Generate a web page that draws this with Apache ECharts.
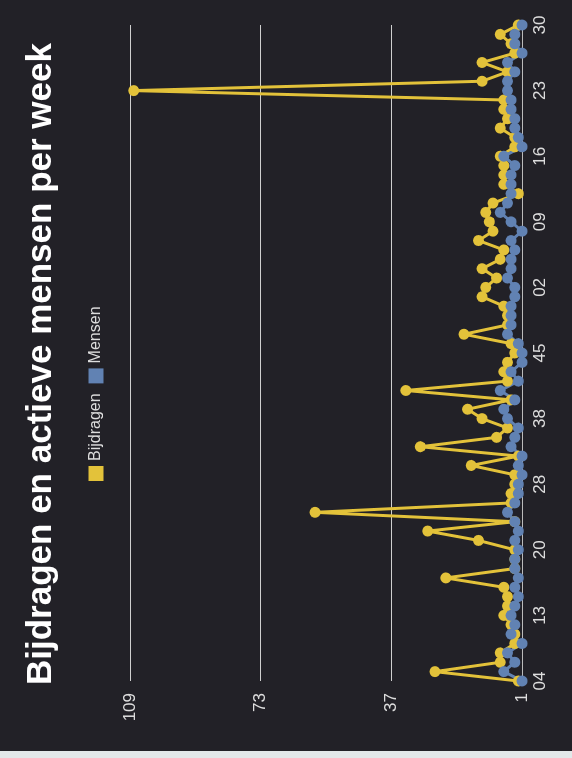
<!DOCTYPE html>
<html>
<head>
<meta charset="utf-8">
<script src="https://cdn.jsdelivr.net/npm/echarts@6/dist/echarts.min.js"></script>
<style>
  html, body { margin: 0; padding: 0; background: #e3e8e9; }
  #page { position: relative; width: 572px; height: 758px; overflow: hidden; }
  /* the printed chart is photographed sideways, so the chart is drawn upright and turned */
  #chart {
    position: absolute; left: 0; top: 0;
    width: 758px; height: 572px;
    transform-origin: 0 0;
    transform: translate(0, 758px) rotate(-90deg);
  }
  #strip { position: absolute; left: 0; top: 751px; width: 572px; height: 7px; background: #e3e8e9; }
</style>
</head>
<body>
<div id="page">
  <div id="chart"></div>
  <div id="strip"></div>
</div>
<script>
const weeks = [
  "04", "05", "06", "07", "08", "10", "11",
  "13", "14", "15", "16", "17", "18", "19",
  "20", "21", "22", "23", "24", "25", "27",
  "28", "29", "33", "34", "35", "36", "37",
  "38", "39", "40", "41", "42", "43", "44",
  "45", "46", "47", "48", "49", "50", "51",
  "02", "03", "04", "05", "06", "07", "08",
  "09", "10", "11", "12", "13", "14", "15",
  "16", "17", "18", "19", "20", "21", "22",
  "23", "24", "25", "26", "27", "28", "29",
  "30"
];

const bijdragen = [
  2, 25, 7, 7, 3, 3, 4, 6, 5, 5,
  6, 22, 3, 3, 3, 13, 27, 3, 58, 4,
  4, 3, 3, 15, 2, 29, 8, 5, 12, 16,
  4, 33, 5, 6, 5, 3, 4, 17, 5, 5,
  6, 12, 11, 8, 12, 7, 6, 13, 9, 10,
  11, 9, 2, 6, 6, 6, 7, 3, 3, 7,
  5, 6, 6, 108, 12, 5, 12, 3, 4, 7,
  2
];

const mensen = [
  1, 6, 3, 5, 1, 4, 3, 4, 3, 2,
  3, 2, 3, 3, 2, 3, 2, 3, 5, 3,
  2, 2, 1, 2, 1, 4, 3, 2, 5, 6,
  3, 7, 2, 4, 1, 1, 2, 5, 4, 4,
  4, 3, 3, 5, 4, 4, 3, 4, 1, 4,
  7, 5, 4, 4, 4, 3, 6, 1, 2, 3,
  3, 4, 4, 5, 5, 3, 5, 1, 3, 3,
  1
];

const valueTicks = [1, 37, 73, 109];

const chart = echarts.init(document.getElementById("chart"));

chart.setOption({
  backgroundColor: "#222127",
  animation: false,
  textStyle: { fontFamily: "Liberation Sans" },
  title: {
    text: "Bijdragen en actieve mensen per week",
    left: 68,
    top: 19,
    textStyle: { color: "#ffffff", fontSize: 35, fontWeight: "bold", fontFamily: "Liberation Sans" },
  },
  legend: {
    data: ["Bijdragen", "Mensen"],
    left: 272,
    top: 83,
    icon: "rect",
    itemWidth: 15,
    itemHeight: 15,
    itemGap: 10,
    textStyle: { color: "#dddddd", fontSize: 16 },
    selectedMode: false,
  },
  grid: { left: 77, right: 25, top: 130, bottom: 50 },
  xAxis: {
    type: "category",
    boundaryGap: false,
    data: weeks,
    axisLine: { show: true, lineStyle: { color: "#bbbbbb", width: 1 } },
    axisTick: { show: false },
    axisLabel: { interval: 6, color: "#dddddd", fontSize: 17, margin: 10 },
  },
  yAxis: {
    type: "value",
    min: valueTicks[0],
    max: valueTicks[valueTicks.length - 1],
    interval: valueTicks[1] - valueTicks[0],
    axisLine: { show: false },
    axisTick: { show: false },
    axisLabel: { color: "#dddddd", fontSize: 17, margin: 12 },
    splitLine: { lineStyle: { color: "#cfcfcf", width: 1 } },
  },
  series: [
    {
      name: "Bijdragen",
      type: "line",
      data: bijdragen,
      symbol: "circle",
      symbolSize: 11,
      showAllSymbol: true,
      itemStyle: { color: "#e3c23a" },
      lineStyle: { color: "#e3c23a", width: 3 },
    },
    {
      name: "Mensen",
      type: "line",
      data: mensen,
      symbol: "circle",
      symbolSize: 11,
      showAllSymbol: true,
      itemStyle: { color: "#6182b3" },
      lineStyle: { color: "#6182b3", width: 3 },
    },
  ],
});
</script>
</body>
</html>
